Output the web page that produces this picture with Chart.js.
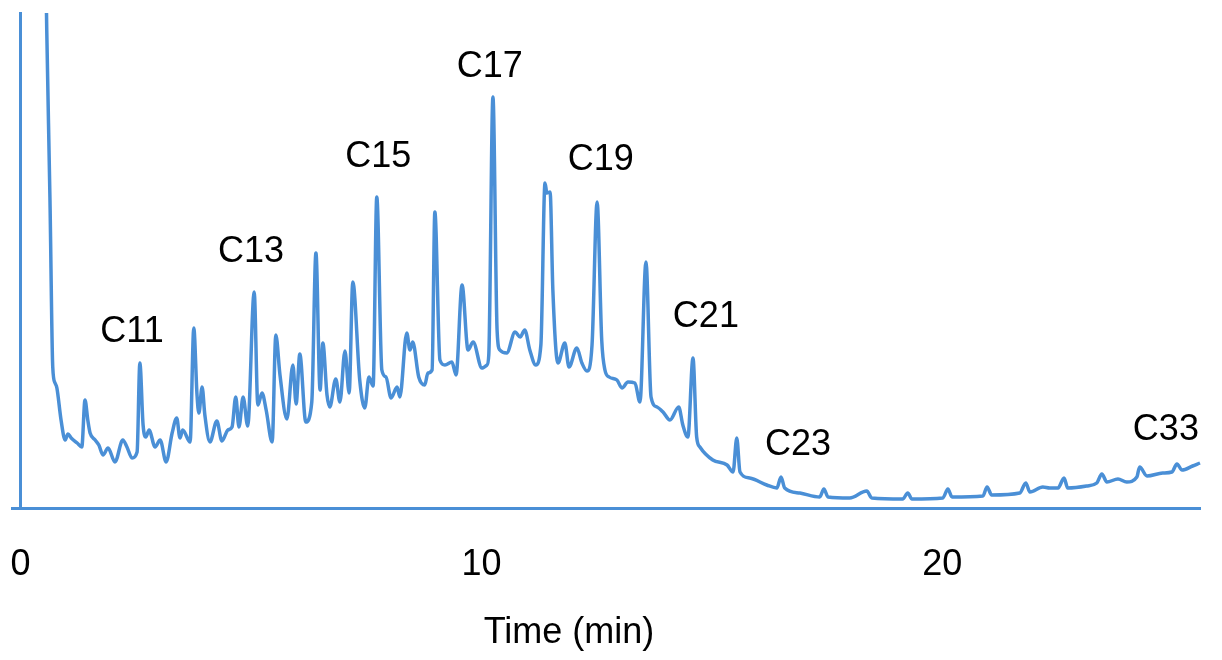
<!DOCTYPE html>
<html>
<head>
<meta charset="utf-8">
<script src="https://cdn.jsdelivr.net/npm/chart.js@4/dist/chart.umd.min.js"></script>
<style>
  html, body { margin: 0; padding: 0; background: #fff; }
  #wrap { width: 1222px; height: 660px; }
</style>
</head>
<body>
<div id="wrap"><canvas id="chromChart" width="1222" height="660"></canvas></div>
<script>
// Retention time (min) and detector signal (arbitrary units)
const times = [
  0.53, 0.57, 0.64, 0.70, 0.75, 0.79, 0.88, 0.97, 1.03, 1.10, 1.23, 1.33, 1.40, 1.46, 1.51,
  1.62, 1.70, 1.79, 1.90, 2.05, 2.22, 2.31, 2.42, 2.53, 2.59, 2.66, 2.72, 2.79, 2.92, 3.03,
  3.16, 3.29, 3.39, 3.46, 3.52, 3.68, 3.76, 3.83, 3.87, 3.94, 4.00, 4.11, 4.26, 4.37, 4.50,
  4.59, 4.67, 4.74, 4.83, 4.93, 5.07, 5.15, 5.24, 5.33, 5.46, 5.54, 5.63, 5.78, 5.91, 5.98,
  6.06, 6.19, 6.32, 6.41, 6.50, 6.56, 6.65, 6.71, 6.84, 6.93, 7.04, 7.13, 7.21, 7.36, 7.47,
  7.56, 7.65, 7.73, 7.84, 7.93, 8.04, 8.17, 8.23, 8.38, 8.45, 8.51, 8.64, 8.77, 8.84, 8.93,
  8.99, 9.10, 9.21, 9.36, 9.45, 9.58, 9.71, 9.82, 10.01, 10.12, 10.16, 10.25, 10.34, 10.40, 10.55,
  10.73, 10.84, 10.94, 11.05, 11.18, 11.29, 11.38, 11.42, 11.49, 11.55, 11.66, 11.81, 11.90, 12.07, 12.18,
  12.29, 12.40, 12.51, 12.61, 12.68, 12.77, 12.94, 13.05, 13.18, 13.33, 13.44, 13.57, 13.68, 13.81, 13.94,
  14.09, 14.28, 14.37, 14.48, 14.59, 14.67, 14.74, 15.02, 15.33, 15.46, 15.54, 15.61, 15.82, 16.19, 16.41,
  16.50, 16.58, 16.91, 17.34, 17.43, 17.52, 17.99, 18.36, 18.47, 19.14, 19.25, 19.34, 20.01, 20.12, 20.21,
  20.88, 20.97, 21.07, 21.68, 21.81, 21.90, 22.18, 22.33, 22.51, 22.64, 22.72, 23.13, 23.35, 23.46, 23.57,
  23.81, 24.00, 24.22, 24.28, 24.44, 24.78, 24.98, 25.09, 25.20, 25.43, 25.59, 25.70
];
const signal = [
  600, 478, 308, 141, 125, 120, 88, 68, 74, 70, 65, 61, 108, 88, 75,
  68, 63, 53, 60, 46, 68, 61, 50, 56, 145, 83, 71, 78, 61, 68,
  46, 75, 90, 70, 78, 66, 180, 113, 95, 121, 93, 66, 87, 67, 78,
  81, 111, 81, 111, 82, 216, 103, 115, 98, 66, 173, 133, 89, 143, 104,
  154, 86, 106, 255, 118, 165, 113, 101, 129, 106, 157, 115, 226, 128, 100,
  131, 122, 311, 138, 131, 110, 121, 111, 175, 158, 166, 131, 123, 135, 138,
  296, 148, 143, 146, 133, 223, 158, 166, 140, 143, 153, 411, 178, 158, 155,
  176, 171, 178, 158, 143, 163, 325, 315, 316, 218, 145, 165, 141, 160, 145,
  137, 163, 306, 168, 138, 131, 128, 120, 126, 125, 106, 246, 111, 101, 96,
  88, 101, 83, 71, 150, 71, 61, 48, 43, 36, 70, 36, 30, 23, 20,
  31, 20, 15, 11, 19, 11, 10, 17, 10, 9, 15, 9, 10, 19, 11,
  12, 21, 13, 15, 25, 16, 21, 20, 20, 30, 20, 22, 25, 34, 26,
  29, 26, 31, 41, 32, 35, 36, 44, 38, 42, 45, 47
];

// Peak annotations (n-alkane carbon number) and where their text sits
const peakNames = ['C11', 'C13', 'C15', 'C17', 'C19', 'C21', 'C23', 'C33'];
const peakLabelTimes = [2.42, 5.00, 7.76, 10.18, 12.59, 14.87, 16.87, 24.85];
const peakLabelLevels = [176, 256, 351, 441, 348, 191, 63, 78];

const xTickValues = [0, 10, 20];
const xAxisTitle = 'Time (min)';
const xAxisTitleAt = 11.9; // the title is not centred on the plot in the original

const lineColor = '#4a8fd6';
const fontFamily = "'Liberation Sans', Arial, sans-serif";

// Draws the Cxx labels at their data positions, plus the x axis title
const peakLabelPlugin = {
    id: 'peakLabels',
    afterDatasetsDraw(chart) {
        const { ctx, scales } = chart;
        ctx.save();
        ctx.fillStyle = '#000';
        ctx.font = '36px ' + fontFamily;
        ctx.textAlign = 'center';
        ctx.textBaseline = 'middle';
        peakNames.forEach((name, i) => {
            const px = scales.x.getPixelForValue(peakLabelTimes[i]);
            const py = scales.y.getPixelForValue(peakLabelLevels[i]);
            ctx.fillText(name, px, py);
        });
        // axis title sits near the bottom of the x axis band
        ctx.fillText(xAxisTitle, scales.x.getPixelForValue(xAxisTitleAt), scales.x.bottom - 27);
        ctx.restore();
    }
};

const chromData = times.map((t, i) => ({ x: t, y: signal[i] }));

new Chart(document.getElementById('chromChart'), {
    type: 'line',
    data: {
        datasets: [{
            data: chromData,
            borderColor: lineColor,
            borderWidth: 3.5,
            pointRadius: 0,
            fill: false,
            cubicInterpolationMode: 'monotone',
            borderJoinStyle: 'round',
            clip: { left: 0, top: 0, right: 8, bottom: 0 }
        }]
    },
    options: {
        responsive: false,
        animation: false,
        devicePixelRatio: 1,
        layout: { padding: { left: 12, right: 22, top: 13, bottom: 0 } },
        plugins: {
            legend: { display: false },
            tooltip: { enabled: false }
        },
        scales: {
            x: {
                type: 'linear',
                min: -0.184,
                max: 25.59,
                grid: { display: false, drawTicks: false },
                border: { display: true, color: lineColor, width: 3 },
                afterBuildTicks: (scale) => {
                    scale.ticks = xTickValues.map(v => ({ value: v }));
                },
                // keep the plot area fixed: axis band is exactly 152px tall, no side padding
                afterFit: (scale) => {
                    scale.height = 152;
                    scale.paddingLeft = 0;
                    scale.paddingRight = 0;
                },
                ticks: {
                    padding: 35,
                    color: '#000',
                    maxRotation: 0,
                    autoSkip: false,
                    font: { family: fontFamily, size: 36 }
                },
                title: { display: false }
            },
            y: {
                type: 'linear',
                position: { x: 0 },
                min: 0,
                max: 495,
                grid: { display: false, drawTicks: false },
                border: { display: true, color: lineColor, width: 3 },
                ticks: { display: false },
                afterFit: (scale) => {
                    scale.width = 0;
                    scale.paddingTop = 0;
                    scale.paddingBottom = 0;
                    scale.paddingLeft = 0;
                    scale.paddingRight = 0;
                }
            }
        }
    },
    plugins: [peakLabelPlugin]
});
</script>
</body>
</html>
